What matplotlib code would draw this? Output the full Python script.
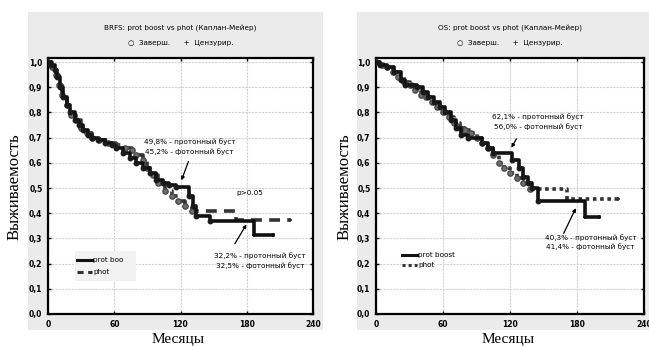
import matplotlib.pyplot as plt
from matplotlib.patches import Rectangle

# BRFS (left panel)
brfs_prot_t = [0, 3, 6, 8, 11, 14, 17, 20, 24, 28, 32, 36, 40, 45, 52, 58, 62, 68, 74, 80,
               86, 92, 98, 104, 110, 116, 128, 131, 134, 147, 187, 204]
brfs_prot_s = [1.0, 0.99, 0.97, 0.94, 0.90, 0.86, 0.83, 0.80, 0.77, 0.75, 0.73, 0.71, 0.70,
               0.69, 0.68, 0.67, 0.66, 0.64, 0.62, 0.60, 0.58, 0.56, 0.53, 0.52, 0.51, 0.505,
               0.47, 0.43, 0.39, 0.37, 0.315, 0.315]
brfs_phot_t = [0, 4, 7, 10, 13, 17, 21, 25, 30, 35, 40, 46, 54, 62, 70, 76, 80, 86, 90, 95,
               100, 106, 112, 118, 124, 130, 170, 219]
brfs_phot_s = [1.0, 0.98, 0.95, 0.91, 0.87, 0.83, 0.79, 0.77, 0.74, 0.72, 0.70, 0.69, 0.68,
               0.67, 0.66, 0.65, 0.63, 0.61, 0.58, 0.55, 0.52, 0.49, 0.47, 0.45, 0.43, 0.41,
               0.375, 0.375]

# OS (right panel)
os_prot_t = [0, 4, 10, 16, 22, 26, 32, 37, 42, 47, 52, 57, 62, 67, 72, 76, 82, 95, 100, 105,
             122, 128, 132, 136, 140, 145, 187, 200]
os_prot_s = [1.0, 0.99, 0.98, 0.96, 0.93, 0.91, 0.91, 0.90, 0.88, 0.86, 0.84, 0.82, 0.80,
             0.77, 0.74, 0.71, 0.70, 0.68, 0.66, 0.64, 0.61, 0.58, 0.545, 0.52, 0.50, 0.45,
             0.385, 0.385]
os_phot_t = [0, 5, 10, 15, 20, 25, 30, 35, 40, 45, 50, 55, 60, 65, 70, 75, 80, 85, 90, 95,
             100, 105, 110, 115, 120, 126, 132, 138, 171, 217]
os_phot_s = [1.0, 0.99, 0.98, 0.96, 0.94, 0.92, 0.91, 0.89, 0.87, 0.86, 0.84, 0.82, 0.80,
             0.78, 0.76, 0.74, 0.73, 0.72, 0.70, 0.68, 0.66, 0.63, 0.60, 0.58, 0.56, 0.54,
             0.52, 0.495, 0.455, 0.455]

x_ticks = [0, 60, 120, 180, 240]
y_ticks = [0.0, 0.1, 0.2, 0.3, 0.4, 0.5, 0.6, 0.7, 0.8, 0.9, 1.0]

fig = plt.figure(figsize=(6.49, 3.47), dpi=100)
W, H = 649, 347

# grey panel backgrounds
for x0, x1 in [(28, 323), (357, 649)]:
    fig.patches.append(Rectangle((x0 / W, 1 - 330 / H), (x1 - x0) / W, 318 / H,
                                 transform=fig.transFigure, facecolor='#ebebeb',
                                 edgecolor='none', zorder=-1))

tick_font = dict(family='DejaVu Sans', size=5.5, weight='bold')
small = dict(family='DejaVu Sans', fontsize=5.2)


def km_panel(ax, pt, ps, qt, qs, phot_ls, title):
    ax.set_facecolor('white')
    ax.step(qt, qs, where='post', color='#333333', lw=2.6, ls=phot_ls, zorder=3)
    ax.plot(qt[:-2], qs[:-2], 'o', ms=3.8, color='#6e6e6e', mec='#4a4a4a', zorder=3)
    ax.step(pt, ps, where='post', color='#111111', lw=2.6, zorder=4)
    ax.plot(pt[:-2], ps[:-2], 'o', ms=3.2, color='#1a1a1a', zorder=4)
    ax.plot(pt[-2:], ps[-2:], '+', ms=3.5, color='#111111', mew=1.2, zorder=4)
    ax.plot(qt[-2:], qs[-2:], '+', ms=3.5, color='#333333', mew=1.2, zorder=3)
    ax.set_xlim(0, 240)
    ax.set_ylim(0, 1.016)
    ax.set_xticks(x_ticks)
    ax.set_yticks(y_ticks)
    ax.set_xticklabels([str(v) for v in x_ticks], **tick_font)
    ax.set_yticklabels([f'{v:.1f}'.replace('.', ',') for v in y_ticks], **tick_font)
    ax.tick_params(direction='in', length=2, width=1, pad=4, top=True, right=True)
    ax.grid(True, color='#d2d2d2', ls=(0, (2, 1)), lw=0.8)
    for sp in ax.spines.values():
        sp.set_linewidth(1.6)
    ax.set_title(title, pad=20, **small)
    ax.text(0.5, 1.045, '\u25cb  Заверш.      +  Цензурир.', transform=ax.transAxes,
            ha='center', va='bottom', **small)


ax1 = fig.add_axes([48 / W, 1 - 314 / H, 265 / W, 256 / H])
km_panel(ax1, brfs_prot_t, brfs_prot_s, brfs_phot_t, brfs_phot_s, (0, (3, 2)),
         'BRFS: prot boost vs phot (Каплан-Мейер)')
ax2 = fig.add_axes([376 / W, 1 - 314 / H, 268 / W, 256 / H])
km_panel(ax2, os_prot_t, os_prot_s, os_phot_t, os_phot_s, (0, (1, 1)),
         'OS: prot boost vs phot (Каплан-Мейер)')

ann = dict(ha='center', va='center', linespacing=1.5, **small)
arrow = dict(arrowstyle='-|>', color='black', lw=0.9, mutation_scale=5)

# left annotations
ax1.text(128, 0.665, '49,8% - протонный буст\n45,2% - фотонный буст', **ann)
ax1.annotate('', xy=(120, 0.52), xytext=(128, 0.615), arrowprops=arrow)
ax1.text(183, 0.48, 'p>0.05', ha='center', va='center', **small)
ax1.text(192, 0.212, '32,2% - протонный буст\n32,5% - фотонный буст', **ann)
ax1.annotate('', xy=(181, 0.365), xytext=(168, 0.27), arrowprops=arrow)

# right annotations
ax2.text(145, 0.765, '62,1% - протонный буст\n56,0% - фотонный буст', **ann)
ax2.annotate('', xy=(120, 0.65), xytext=(127, 0.705), arrowprops=arrow)
ax2.text(192, 0.285, '40,3% - протонный буст\n41,4% - фотонный буст', **ann)
ax2.annotate('', xy=(180, 0.43), xytext=(167, 0.31), arrowprops=arrow)

# in-plot legends
ax1.add_patch(Rectangle((24, 0.13), 56, 0.12, facecolor='#f2f2f2', edgecolor='none', zorder=2))
ax1.plot([26, 40], [0.214, 0.214], color='#111111', lw=2.2, zorder=3)
ax1.plot([26, 40], [0.167, 0.167], color='#333333', lw=2.2, ls=(0, (2, 1.5)), zorder=3)
ax1.text(41, 0.214, 'prot boo', va='center', zorder=3, **small)
ax1.text(41, 0.167, 'phot', va='center', zorder=3, **small)

ax2.plot([23, 37], [0.234, 0.234], color='#111111', lw=2.2, zorder=3)
ax2.plot([23, 37], [0.195, 0.195], color='#333333', lw=2.2, ls=(0, (1, 1)), zorder=3)
ax2.text(38, 0.234, 'prot boost', va='center', zorder=3, **small)
ax2.text(38, 0.195, 'phot', va='center', zorder=3, **small)

# axis labels in serif
for cx in [15, 345]:
    fig.text(cx / W, 1 - 187 / H, 'Выживаемость', rotation=90, ha='center', va='center',
             family='Liberation Serif', fontsize=12)
for cx in [178, 508]:
    fig.text(cx / W, 1 - 340 / H, 'Месяцы', ha='center', va='center',
             family='Liberation Serif', fontsize=11)

fig.savefig('out.png', dpi=100)
